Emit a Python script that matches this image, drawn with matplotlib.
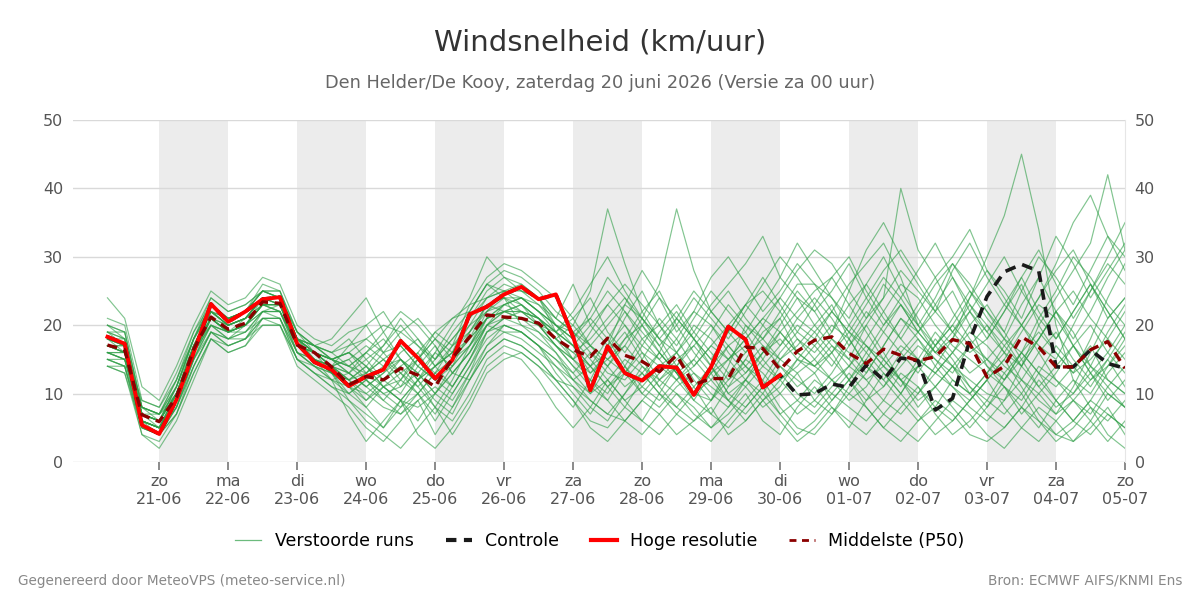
import numpy as np
import pandas as pd
import matplotlib
matplotlib.use('Agg')
import matplotlib.pyplot as plt
from matplotlib.lines import Line2D

plt.rcParams['font.family'] = ['DejaVu Sans']

# tijdas: 6-uurlijks vanaf za 20-06 06:00 t/m zo 05-07 00:00
tijden = pd.date_range('2026-06-20 06:00', '2026-07-05 00:00', freq='6h')

dag_labels = ['zo\n21-06', 'ma\n22-06', 'di\n23-06', 'wo\n24-06', 'do\n25-06',
              'vr\n26-06', 'za\n27-06', 'zo\n28-06', 'ma\n29-06', 'di\n30-06',
              'wo\n01-07', 'do\n02-07', 'vr\n03-07', 'za\n04-07', 'zo\n05-07']
dag_ticks = pd.date_range('2026-06-21', '2026-07-05', freq='D')
grijze_dagen = pd.date_range('2026-06-21', '2026-07-03', freq='2D')

hoge_resolutie = [18.3, 17.3, 5.4, 4.1, 9.1, 16.0, 23.1, 20.5, 22.0, 23.8, 24.1, 17.3, 14.6,
                  13.5, 11.1, 12.5, 13.5, 17.7, 15.2, 12.2, 14.9, 21.6, 22.7, 24.5, 25.6, 23.8, 24.5,
                  18.3, 10.5, 16.9, 13.0, 11.9, 14.0, 13.8, 9.8, 13.9, 19.8, 17.9, 10.9, 12.7]

controle = hoge_resolutie + [
    9.8, 10.0, 11.4, 10.9, 14.2, 12.0, 15.2, 14.8, 7.6, 9.3,
    17.8, 24.2, 27.8, 28.9, 27.9, 13.9, 13.9, 16.4, 14.4, 13.7]

p50 = [17.1, 16.4, 6.9, 5.9, 9.5, 16.5, 21.2, 19.4, 20.3, 23.4, 23.2, 17.1, 16.0,
       13.9, 11.3, 12.5, 12.0, 13.7, 12.7, 11.0, 15.2, 18.3, 21.5, 21.2, 21.0, 20.3, 18.0,
       16.4, 15.4, 18.1, 15.6, 14.7, 13.2, 15.6, 11.3, 12.2, 12.2, 16.8, 16.6, 13.5, 16.2,
       17.8, 18.3, 15.9, 14.4, 16.5, 15.6, 14.8, 15.4, 17.9, 17.3, 12.4, 14.0, 18.3, 16.8,
       13.9, 13.9, 16.4, 17.6, 13.7]

leden = [
    [18, 17, 6, 5, 10, 17, 22, 20, 21, 24, 24, 18, 15, 13, 10, 12, 14, 15, 13, 10, 14, 19, 23, 22, 22, 21, 19,
     15, 12, 17, 20, 16, 12, 14, 10, 9, 14, 20, 18, 15, 17, 20, 23, 18, 14, 12, 16, 19, 22, 25, 20, 14, 12, 15, 18, 22, 19, 14, 12, 10],
    [16, 15, 7, 7, 9, 15, 20, 18, 19, 22, 23, 16, 15, 12, 13, 11, 9, 12, 15, 13, 17, 20, 22, 24, 20, 18, 16,
     13, 10, 14, 18, 20, 17, 13, 9, 7, 11, 15, 19, 21, 16, 14, 12, 10, 13, 17, 21, 18, 15, 13, 17, 20, 16, 12, 9, 7, 11, 16, 21, 24],
    [20, 19, 8, 6, 11, 18, 24, 22, 23, 25, 24, 19, 17, 15, 16, 14, 11, 9, 12, 15, 18, 21, 25, 27, 26, 24, 21,
     19, 16, 13, 12, 15, 19, 22, 18, 14, 10, 12, 15, 19, 22, 25, 27, 23, 19, 15, 12, 10, 14, 18, 24, 30, 36, 45, 34, 20, 12, 10, 14, 18],
    [15, 14, 5, 4, 8, 14, 19, 17, 18, 21, 21, 15, 14, 13, 9, 7, 5, 8, 10, 6, 10, 14, 18, 20, 19, 17, 14,
     11, 8, 6, 10, 14, 11, 8, 6, 9, 13, 11, 8, 10, 13, 9, 7, 11, 15, 12, 9, 6, 8, 12, 10, 7, 5, 8, 12, 9, 6, 4, 7, 5],
    [17, 16, 9, 8, 12, 19, 23, 21, 22, 26, 25, 18, 16, 15, 14, 16, 18, 15, 12, 14, 16, 22, 26, 28, 27, 25, 22,
     20, 25, 37, 29, 22, 18, 16, 20, 18, 15, 17, 14, 12, 15, 18, 22, 26, 29, 32, 27, 20, 16, 14, 12, 10, 9, 14, 20, 24, 28, 32, 42, 31],
    [14, 13, 4, 3, 7, 13, 18, 16, 17, 20, 20, 14, 12, 10, 8, 5, 3, 6, 9, 4, 8, 12, 16, 18, 17, 15, 12,
     9, 6, 5, 8, 6, 4, 7, 5, 3, 6, 9, 12, 8, 5, 4, 7, 10, 8, 5, 3, 6, 9, 7, 4, 3, 5, 8, 6, 4, 6, 9, 7, 5],
    [19, 18, 6, 5, 9, 16, 21, 19, 20, 24, 24, 18, 15, 14, 12, 13, 16, 17, 14, 12, 15, 18, 21, 23, 24, 22, 20,
     18, 15, 12, 9, 11, 14, 16, 13, 11, 9, 12, 16, 20, 24, 22, 18, 15, 20, 24, 28, 25, 22, 19, 16, 18, 22, 26, 20, 16, 13, 18, 24, 29],
    [16, 15, 8, 7, 10, 17, 20, 18, 20, 23, 22, 17, 16, 14, 15, 12, 10, 11, 13, 16, 14, 17, 20, 21, 22, 21, 18,
     16, 18, 21, 24, 20, 16, 13, 15, 19, 23, 20, 17, 14, 11, 13, 16, 12, 9, 11, 15, 18, 14, 11, 9, 12, 15, 19, 23, 21, 17, 13, 10, 8],
    [18, 18, 7, 6, 10, 16, 22, 20, 21, 23, 23, 17, 16, 13, 11, 9, 12, 14, 11, 8, 12, 17, 22, 25, 23, 20, 17,
     14, 11, 9, 13, 17, 21, 18, 14, 17, 20, 23, 25, 22, 18, 16, 19, 23, 26, 22, 18, 15, 13, 16, 20, 23, 19, 15, 11, 8, 10, 13, 16, 20],
    [24, 21, 11, 9, 14, 20, 25, 23, 24, 27, 26, 20, 18, 17, 19, 20, 16, 13, 11, 14, 17, 23, 27, 29, 28, 26, 24,
     21, 17, 15, 18, 22, 25, 20, 16, 13, 15, 18, 21, 24, 28, 31, 29, 25, 21, 24, 40, 31, 27, 22, 18, 15, 12, 16, 21, 25, 30, 27, 23, 20],
    [15, 15, 5, 4, 8, 15, 20, 19, 19, 22, 22, 16, 14, 12, 11, 10, 8, 7, 9, 11, 9, 13, 19, 21, 20, 19, 16,
     12, 9, 7, 6, 9, 12, 10, 7, 5, 8, 12, 10, 7, 9, 12, 10, 8, 6, 9, 13, 11, 8, 6, 9, 12, 15, 11, 7, 4, 3, 6, 10, 8],
    [17, 16, 6, 5, 9, 17, 21, 19, 20, 23, 23, 17, 16, 14, 13, 15, 12, 10, 14, 17, 13, 16, 21, 22, 21, 20, 19,
     17, 14, 16, 19, 15, 11, 14, 18, 15, 12, 14, 17, 15, 13, 15, 18, 16, 13, 17, 21, 19, 16, 18, 22, 19, 16, 14, 18, 22, 17, 14, 19, 23],
    [20, 19, 8, 7, 12, 18, 23, 21, 22, 25, 25, 19, 17, 16, 17, 18, 20, 19, 17, 15, 18, 21, 24, 26, 25, 24, 20,
     18, 22, 27, 24, 21, 26, 37, 28, 22, 19, 16, 18, 22, 26, 26, 24, 20, 17, 15, 19, 23, 27, 30, 34, 28, 24, 20, 17, 15, 20, 25, 30, 35],
    [15, 14, 4, 2, 6, 12, 18, 16, 17, 21, 21, 15, 13, 11, 9, 6, 4, 2, 5, 8, 6, 10, 15, 17, 16, 14, 12,
     9, 5, 3, 6, 9, 7, 4, 6, 8, 4, 6, 9, 6, 3, 5, 8, 6, 4, 7, 5, 3, 6, 9, 7, 4, 2, 5, 8, 6, 3, 5, 8, 4],
    [17, 17, 7, 6, 11, 17, 22, 20, 21, 24, 23, 18, 16, 15, 13, 11, 13, 16, 18, 14, 11, 15, 20, 22, 23, 21, 18,
     15, 19, 23, 20, 17, 15, 18, 22, 20, 17, 14, 12, 16, 19, 17, 14, 18, 22, 19, 16, 13, 17, 21, 25, 22, 18, 16, 13, 11, 14, 17, 12, 10],
    [16, 15, 6, 5, 9, 15, 21, 19, 20, 23, 22, 16, 15, 14, 12, 14, 11, 9, 8, 10, 13, 16, 20, 19, 18, 16, 14,
     12, 10, 12, 15, 13, 10, 8, 11, 14, 10, 8, 11, 13, 10, 8, 11, 14, 12, 9, 7, 10, 13, 11, 8, 6, 9, 12, 10, 7, 9, 12, 15, 11],
    [18, 17, 7, 6, 10, 17, 22, 20, 21, 24, 24, 18, 16, 15, 16, 14, 17, 21, 18, 15, 19, 22, 26, 25, 24, 22, 20,
     17, 13, 16, 21, 25, 20, 16, 19, 23, 26, 29, 33, 27, 24, 20, 17, 14, 18, 22, 26, 24, 20, 17, 15, 13, 16, 20, 24, 28, 31, 26, 22, 18],
    [19, 18, 7, 6, 10, 16, 21, 20, 21, 24, 23, 18, 17, 15, 14, 12, 9, 7, 10, 13, 15, 18, 23, 24, 24, 23, 20,
     19, 21, 18, 14, 11, 9, 12, 15, 12, 9, 7, 10, 14, 12, 10, 13, 17, 20, 16, 12, 9, 11, 14, 17, 14, 11, 9, 13, 17, 14, 11, 15, 19],
    [14, 13, 5, 4, 7, 14, 19, 17, 18, 21, 20, 15, 13, 11, 10, 12, 10, 8, 12, 9, 7, 12, 17, 19, 19, 17, 15,
     12, 14, 11, 8, 12, 16, 13, 10, 12, 15, 12, 9, 11, 15, 13, 9, 12, 16, 13, 10, 14, 18, 15, 11, 8, 12, 16, 13, 9, 6, 9, 13, 16],
    [18, 17, 8, 7, 11, 18, 23, 21, 22, 25, 24, 18, 16, 14, 15, 17, 15, 13, 15, 18, 16, 20, 24, 25, 25, 24, 21,
     19, 17, 20, 23, 21, 18, 21, 25, 22, 19, 23, 27, 23, 19, 23, 27, 30, 25, 21, 18, 22, 26, 29, 25, 21, 18, 23, 27, 22, 18, 22, 27, 31],
    [17, 16, 6, 5, 9, 16, 22, 20, 21, 23, 23, 17, 15, 13, 12, 10, 12, 14, 16, 12, 10, 14, 19, 21, 21, 20, 17,
     14, 12, 10, 14, 18, 15, 12, 9, 13, 17, 19, 15, 12, 14, 17, 20, 18, 14, 11, 14, 17, 15, 12, 10, 13, 17, 20, 16, 12, 10, 14, 11, 8],
    [16, 16, 7, 6, 10, 16, 20, 19, 20, 22, 22, 17, 16, 15, 16, 13, 15, 17, 14, 12, 14, 17, 21, 23, 22, 21, 19,
     17, 14, 11, 13, 10, 8, 11, 13, 10, 8, 11, 14, 17, 20, 18, 15, 12, 15, 19, 23, 20, 17, 14, 11, 9, 7, 10, 14, 12, 9, 7, 11, 14],
    [18, 17, 6, 5, 10, 17, 21, 19, 21, 24, 24, 18, 17, 16, 14, 16, 19, 22, 20, 17, 13, 16, 20, 23, 24, 22, 20,
     18, 21, 25, 22, 18, 20, 23, 19, 16, 13, 16, 20, 24, 21, 19, 16, 20, 24, 28, 31, 27, 23, 19, 22, 26, 30, 25, 21, 18, 22, 26, 22, 18],
    [17, 16, 6, 5, 9, 16, 21, 19, 20, 23, 22, 17, 15, 14, 11, 13, 11, 12, 10, 13, 11, 15, 20, 22, 21, 19, 17,
     15, 13, 15, 17, 14, 12, 15, 17, 14, 11, 13, 16, 18, 15, 14, 17, 15, 12, 14, 17, 15, 13, 16, 19, 17, 14, 12, 16, 19, 15, 12, 14, 17],
    [21, 20, 9, 8, 13, 19, 24, 22, 23, 25, 25, 19, 17, 18, 21, 24, 19, 15, 12, 16, 20, 24, 30, 27, 25, 23, 21,
     26, 20, 17, 23, 28, 24, 19, 22, 27, 30, 26, 22, 25, 29, 26, 22, 19, 23, 27, 24, 20, 24, 29, 26, 22, 19, 25, 30, 27, 23, 28, 33, 30],
    [16, 15, 6, 4, 8, 14, 19, 18, 18, 22, 21, 16, 14, 12, 7, 3, 6, 9, 4, 2, 5, 9, 14, 16, 15, 12, 8,
     5, 8, 12, 9, 6, 10, 14, 11, 7, 5, 8, 11, 7, 4, 6, 9, 12, 8, 5, 8, 11, 7, 4, 6, 9, 13, 10, 6, 3, 5, 8, 4, 2],
    [19, 17, 7, 6, 11, 18, 22, 21, 22, 24, 24, 19, 16, 14, 17, 20, 22, 18, 15, 19, 21, 23, 24, 25, 26, 24, 19,
     22, 26, 30, 25, 21, 17, 20, 24, 21, 18, 22, 26, 30, 27, 23, 19, 25, 31, 35, 30, 26, 22, 28, 32, 27, 23, 20, 24, 29, 35, 39, 33, 28],
    [15, 14, 6, 5, 8, 15, 19, 18, 19, 21, 21, 16, 14, 13, 11, 8, 5, 9, 12, 8, 4, 8, 13, 15, 16, 14, 11,
     8, 12, 9, 6, 4, 7, 10, 8, 5, 7, 10, 6, 4, 8, 11, 8, 5, 9, 13, 10, 7, 4, 6, 9, 12, 8, 5, 3, 6, 9, 6, 3, 6],
    [18, 16, 6, 5, 10, 16, 21, 19, 20, 23, 23, 17, 16, 15, 13, 16, 14, 11, 15, 18, 21, 22, 26, 24, 22, 20, 18,
     16, 14, 18, 22, 19, 16, 21, 18, 15, 19, 23, 20, 17, 21, 24, 21, 17, 21, 26, 23, 19, 23, 27, 22, 18, 22, 27, 31, 26, 21, 25, 29, 26],
    [17, 17, 7, 6, 10, 17, 22, 20, 21, 24, 23, 18, 16, 14, 12, 9, 11, 13, 10, 7, 11, 15, 19, 20, 19, 17, 13,
     10, 7, 11, 14, 10, 13, 16, 12, 9, 12, 15, 13, 10, 7, 9, 12, 9, 11, 15, 12, 8, 11, 14, 10, 13, 11, 7, 10, 13, 17, 13, 9, 12],
    [20, 18, 8, 7, 12, 18, 23, 21, 22, 25, 24, 18, 17, 16, 18, 15, 17, 20, 17, 14, 16, 19, 22, 23, 24, 22, 19,
     17, 20, 23, 26, 23, 20, 17, 21, 25, 22, 19, 23, 27, 32, 28, 24, 21, 26, 30, 25, 21, 17, 20, 24, 28, 25, 21, 27, 33, 29, 24, 28, 32],
    [14, 14, 5, 4, 7, 13, 18, 17, 18, 20, 20, 15, 13, 12, 10, 8, 11, 9, 6, 10, 13, 12, 16, 18, 17, 15, 12,
     11, 9, 7, 10, 13, 10, 7, 10, 13, 9, 6, 9, 12, 9, 7, 10, 13, 10, 7, 10, 14, 11, 8, 5, 8, 11, 8, 5, 9, 12, 8, 6, 9],
    [18, 17, 7, 6, 10, 16, 21, 20, 21, 24, 23, 18, 16, 15, 14, 13, 15, 12, 16, 19, 17, 19, 23, 24, 23, 21, 19,
     21, 24, 19, 16, 20, 24, 21, 18, 22, 25, 21, 18, 21, 25, 22, 25, 29, 24, 20, 24, 28, 32, 27, 23, 19, 23, 27, 22, 18, 22, 26, 21, 24],
    [16, 16, 6, 5, 9, 16, 20, 19, 20, 22, 22, 17, 15, 13, 12, 14, 12, 15, 13, 10, 8, 13, 17, 20, 19, 17, 15,
     13, 16, 14, 11, 13, 16, 13, 10, 14, 17, 14, 11, 15, 18, 15, 12, 14, 17, 14, 11, 15, 19, 16, 13, 15, 18, 14, 11, 14, 17, 20, 16, 13],
    [19, 19, 8, 7, 11, 18, 22, 21, 22, 25, 24, 18, 17, 15, 16, 18, 16, 19, 21, 18, 15, 17, 21, 22, 23, 21, 18,
     20, 17, 14, 17, 21, 18, 14, 17, 20, 16, 13, 16, 19, 16, 19, 22, 19, 16, 20, 23, 19, 16, 19, 23, 20, 17, 14, 18, 22, 25, 21, 18, 22],
    [17, 16, 7, 5, 10, 16, 21, 19, 20, 23, 23, 17, 15, 14, 13, 11, 13, 15, 12, 14, 16, 18, 21, 22, 22, 20, 17,
     15, 17, 15, 13, 16, 14, 12, 14, 17, 15, 18, 21, 19, 16, 14, 16, 19, 17, 14, 12, 14, 17, 20, 17, 15, 13, 16, 19, 16, 13, 15, 18, 15],
]

leden = np.array(leden, dtype=float)

fig = plt.figure(figsize=(12, 6), dpi=100)
ax = fig.add_axes([0.0608, 0.23, 0.8767, 0.57])

groen = '#2e9e46'
for dag in grijze_dagen:
    ax.axvspan(dag, dag + pd.Timedelta(days=1), color='#ececec', lw=0, zorder=0)

for lid in leden:
    ax.plot(tijden, lid, color=groen, lw=0.85, alpha=0.6, zorder=2)

ax.plot(tijden, controle, color='#1a1a1a', lw=2.6, ls=(0, (3, 2)), zorder=3)
ax.plot(tijden[:len(hoge_resolutie)], hoge_resolutie, color='#ff0000', lw=2.8, zorder=4)
ax.plot(tijden, p50, color='#8b0000', lw=2.4, ls=(0, (3, 2)), zorder=5)

ax.set_xlim(pd.Timestamp('2026-06-19 18:00'), pd.Timestamp('2026-07-05 00:00'))
ax.set_ylim(0, 50)
ax.set_yticks([0, 10, 20, 30, 40, 50])
ax.grid(axis='y', color='#d9d9d9', lw=1, zorder=1)
ax.set_axisbelow(True)

ax.set_xticks(dag_ticks)
ax.set_xticklabels(dag_labels)
ax.tick_params(axis='x', length=6, width=1.2, color='#777777', labelsize=11.5,
               labelcolor='#555555', pad=3)
ax.tick_params(axis='y', length=0, labelsize=11.5, labelcolor='#555555', pad=7,
               left=True, right=True, labelleft=True, labelright=True)
for s in ['top', 'left', 'bottom']:
    ax.spines[s].set_visible(False)
ax.spines['right'].set_color('#e6e6e6')

fig.text(0.5, 0.93, 'Windsnelheid (km/uur)', ha='center', va='center',
         fontsize=21, color='#333333')
fig.text(0.5, 0.861, 'Den Helder/De Kooy, zaterdag 20 juni 2026 (Versie za 00 uur)',
         ha='center', va='center', fontsize=12.8, color='#666666')

handles = [
    Line2D([], [], color=groen, lw=0.9, alpha=0.7),
    Line2D([], [], color='#1a1a1a', lw=3, ls=(0, (2.5, 1.8))),
    Line2D([], [], color='#ff0000', lw=3),
    Line2D([], [], color='#8b0000', lw=2.0, ls=(0, (2.5, 2))),
]
fig.legend(handles, ['Verstoorde runs', 'Controle', 'Hoge resolutie', 'Middelste (P50)'],
           loc='center', bbox_to_anchor=(0.5, 0.098), ncol=4, frameon=False,
           fontsize=12.5, handlelength=1.5, columnspacing=1.85, handletextpad=0.75)

fig.text(0.015, 0.032, 'Gegenereerd door MeteoVPS (meteo-service.nl)', ha='left',
         va='center', fontsize=9.8, color='#888888')
fig.text(0.985, 0.032, 'Bron: ECMWF AIFS/KNMI Ens', ha='right', va='center',
         fontsize=9.8, color='#888888')

fig.savefig('out.png', dpi=100)
